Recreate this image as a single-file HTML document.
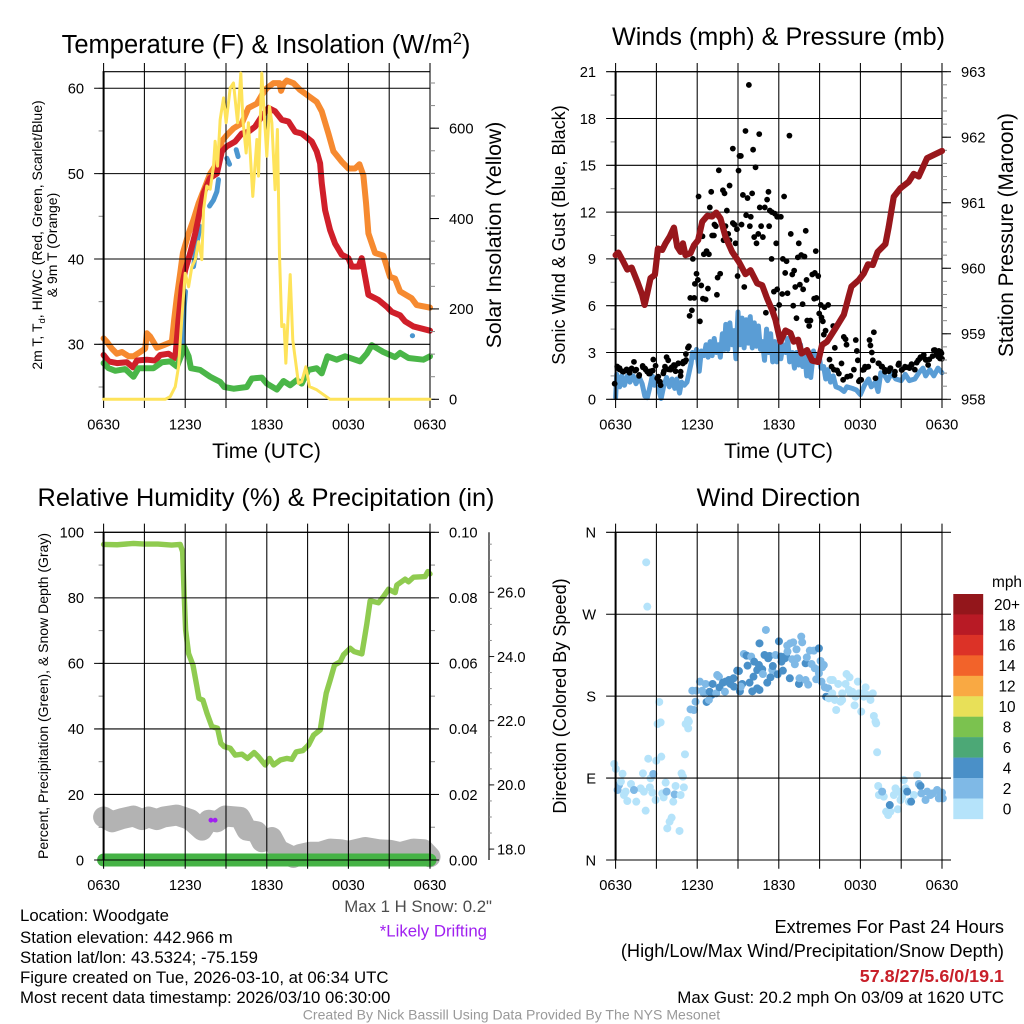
<!DOCTYPE html>
<html lang="en">
<head>
<meta charset="utf-8">
<title>Woodgate Mesonet Meteogram</title>
<style>
html,body{margin:0;padding:0;background:#fff;width:1024px;height:1024px;overflow:hidden}
svg{display:block}
text{font-family:"Liberation Sans",Arial,sans-serif;fill:#000}
</style>
</head>
<body>
<svg id="fig" xmlns="http://www.w3.org/2000/svg" width="1024" height="1024" viewBox="0 0 1024 1024">
<rect x="0" y="0" width="1024" height="1024" fill="#fff"/>
<g id="layer"></g>
<text x="266" y="53" font-size="25.5" text-anchor="middle">Temperature (F) &amp; Insolation (W/m<tspan dy="-9" font-size="16.5">2</tspan><tspan dy="9">)</tspan></text>
<text x="778.5" y="45" font-size="25.2" text-anchor="middle">Winds (mph) &amp; Pressure (mb)</text>
<text x="266" y="506" font-size="25.3" text-anchor="middle">Relative Humidity (%) &amp; Precipitation (in)</text>
<text x="778.5" y="506" font-size="25.2" text-anchor="middle">Wind Direction</text>
<text x="266.5" y="458" font-size="21" text-anchor="middle">Time (UTC)</text>
<text x="778.5" y="458" font-size="21" text-anchor="middle">Time (UTC)</text>
<text transform="translate(42 235) rotate(-90)" font-size="14" text-anchor="middle">2m T, T<tspan dy="3" font-size="9.5">d</tspan><tspan dy="-3">, HI/WC (Red, Green, Scarlet/Blue)</tspan></text>
<text transform="translate(57 245) rotate(-90)" font-size="14" text-anchor="middle">&amp; 9m T (Orange)</text>
<text transform="translate(501 235) rotate(-90)" font-size="21.2" text-anchor="middle">Solar Insolation (Yellow)</text>
<text transform="translate(565 235) rotate(-90)" font-size="18.1" text-anchor="middle">Sonic Wind &amp; Gust (Blue, Black)</text>
<text transform="translate(1013 235) rotate(-90)" font-size="20.8" text-anchor="middle">Station Pressure (Maroon)</text>
<text transform="translate(48 696) rotate(-90)" font-size="14" text-anchor="middle">Percent, Precipitation (Green), &amp; Snow Depth (Gray)</text>
<text transform="translate(566 696) rotate(-90)" font-size="18.1" text-anchor="middle">Direction (Colored By Speed)</text>
<text x="1007" y="587" font-size="15.4" text-anchor="middle">mph</text>
<text x="492" y="912" font-size="16.8" text-anchor="end" style="fill:#4d4d4d">Max 1 H Snow: 0.2"</text>
<text x="487" y="936.5" font-size="16.8" text-anchor="end" style="fill:#a020f0">*Likely Drifting</text>
<text x="20" y="921" font-size="16.8">Location: Woodgate</text>
<text x="20" y="943" font-size="16.8">Station elevation: 442.966 m</text>
<text x="20" y="963" font-size="16.8">Station lat/lon: 43.5324; -75.159</text>
<text x="20" y="983" font-size="16.8">Figure created on Tue, 2026-03-10, at 06:34 UTC</text>
<text x="20" y="1003" font-size="16.8">Most recent data timestamp: 2026/03/10 06:30:00</text>
<text x="1004" y="933" font-size="18.2" text-anchor="end">Extremes For Past 24 Hours</text>
<text x="1004" y="957" font-size="18.2" text-anchor="end">(High/Low/Max Wind/Precipitation/Snow Depth)</text>
<text x="1004" y="982" font-size="17.9" font-weight="bold" text-anchor="end" style="fill:#c8202a">57.8/27/5.6/0/19.1</text>
<text x="1004" y="1003" font-size="16.9" text-anchor="end">Max Gust: 20.2 mph On 03/09 at 1620 UTC</text>
<text x="511.5" y="1019.5" font-size="14.05" text-anchor="middle" style="fill:#999">Created By Nick Bassill Using Data Provided By The NYS Mesonet</text>
</svg>
<script>
// ---------- Temperature panel data ----------
const orangeHours=[0,.24,.61,.98,1.35,1.84,2.2,2.69,3.06,3.18,3.43,3.92,4.41,5.02,5.19,5.39,5.63,5.83,6.25,6.61,6.98,7.47,7.84,8.33,8.69,9.06,9.55,10.16,10.65,11.27,11.63,12,12.49,12.93,13.05,13.22,13.47,13.96,14.45,15.06,15.67,16.04,16.53,16.9,17.51,18,18.49,18.81,19.1,19.3,19.47,19.96,20.57,21.06,21.43,21.8,22.65,23.02,24];
const orangeTemps=[30.7,30.3,29.5,28.9,29.1,28.6,28.6,29.1,29.5,31.3,30.9,29.6,29.9,30.3,32.9,35.6,38.3,40.7,43,44.6,46.5,48.5,50,51.2,53.8,54.5,55.3,55.9,57.7,58.2,59.2,60,60.6,60.6,59.7,60.5,60.9,60.6,59.8,59.1,58.4,57.3,54.7,52.6,51.4,50.6,50.6,51.1,49.8,46.5,43,40.7,40.4,37.9,37.7,36.2,35.4,34.6,34.3];
const redHours=[0,.37,.98,1.71,2.16,2.45,3.18,3.8,4.16,4.78,5.27,5.51,5.76,6,6.37,6.74,6.98,7.35,7.84,8.33,8.69,9.06,9.67,10.16,10.65,11.14,11.63,12.12,12.61,13.1,13.59,14.08,14.57,15.31,15.67,15.92,16.04,16.29,16.65,17.02,17.51,18,18.25,18.74,18.98,19.23,19.47,20.21,20.82,21.19,21.8,22.16,22.78,24];
const redTemps=[28.75,28,27.8,27.9,27.3,28.1,28.2,28.1,28.75,28.9,28.4,32.9,36.8,38.7,40.7,43,44.8,47.7,49.5,50,52.6,53.2,53.75,54.7,54.9,55.5,56.7,57.7,57.3,56.3,56.1,54.9,54.7,53.75,52.6,51.2,48.9,45.7,43.4,41.8,40.5,40.1,39.1,39.1,40.1,37.9,35.8,35.2,34.4,33.8,33.4,32.7,32.1,31.6];
const greenHours=[0,.37,.86,1.59,2.2,2.57,3.67,4.29,4.9,5.39,5.76,5.93,6.25,6.42,7.1,7.84,8.57,8.87,9.55,10.53,10.9,11.63,12,12.74,13.23,13.72,14.2,14.57,15.06,15.67,16.04,16.46,17.14,17.76,18.86,19.35,19.72,20.57,21.43,21.8,22.41,23.51,24];
const greenTemps=[27.8,27.2,26.9,27.1,26.2,27.2,27.2,27.9,28,27.4,28.9,29.7,28.6,27.2,27,26.2,25.6,25,24.8,25,26,26.1,25.4,24.7,25.7,25.2,25.8,25.4,27,27.2,26.6,28.6,28.2,28.6,28,28.9,29.9,29.1,28.5,29,28.4,28.2,28.6];
const windChillHours=[5.76,5.83,5.93,6.02,null,6.61,6.9,7.1,null,7.79,8.08,8.33,8.45,null,9.06,9.26,null,9.75,9.89,null,22.7,22.72];
const windChillTemps=[28.9,30.5,34.4,36.2,null,39.1,42.2,43.8,null,46.2,46.9,47.9,49.3,null,51.8,51.1,null,52.8,52,null,31,31];
const solarHours=[0,4.53,4.9,5.27,5.51,5.76,6,6.25,6.49,6.74,6.98,7.22,7.35,7.59,7.84,8.08,8.2,8.38,8.57,8.82,9.01,9.31,9.55,9.85,10.09,10.24,10.48,10.65,10.97,11.27,11.39,11.63,12,12.2,12.37,12.61,12.78,12.93,13.1,13.27,13.4,13.72,13.91,14.33,14.57,14.87,15.14,15.67,16.65,24];
const solarValues=[0,0,6,28,72,183,279,249,293,309,349,309,420,472,465,516,571,516,619,667,612,689,700,612,722,619,545,612,449,575,494,722,538,648,612,464,597,323,161,165,80,276,131,35,39,72,28,21,0,0];
// ---------- Winds panel data ----------
const windHours=[0,.08,.3,.45,.65,.85,1.05,1.3,1.5,1.75,1.95,2.15,2.33,2.5,2.7,2.85,3,3.2,3.35,3.55,3.75,3.95,4.15,4.35,4.5,4.7,4.85,5.05,5.25,5.4,5.55,5.65,5.8,5.95,6.15,6.3,6.5,6.65,6.8,6.95,7.1,7.25,7.4,7.55,7.7,7.85,8,8.1,8.25,8.4,8.55,8.7,8.85,9,9.15,9.3,9.45,9.6,9.75,9.9,10.05,10.2,10.35,10.5,10.65,10.8,10.95,11.1,11.25,11.4,11.55,11.7,11.85,12,12.15,12.3,12.5,12.65,12.8,13,13.15,13.3,13.45,13.6,13.75,13.9,14.05,14.2,14.35,14.55,14.75,14.95,15.1,15.3,15.45,15.6,15.8,16,16.2,16.5,16.8,17,17.4,17.7,18,18.3,18.6,18.8,19.1,19.3,19.5,19.8,20,20.3,20.6,21,21.3,21.6,22,22.3,22.6,22.8,23.1,23.4,23.7,24];
const windSpeeds=[.1,1.6,.8,1.5,.9,1.5,1.1,1.5,1,1.4,1,.2,.1,.7,1.5,.9,1.4,.5,.05,.9,1.4,.8,1.3,.7,1.3,.4,1.1,.9,1.1,1.7,2.3,3,2.7,3.2,1.8,3.1,2.8,3.5,2.7,3.7,2.8,3.9,3,3.5,2.7,4.2,3.2,4.8,3.2,4.9,3.5,4.4,2.6,5.6,3.5,5.2,3.3,5.1,3.6,5.3,3.3,4.9,3.4,4.7,3.2,3.7,2.5,4.5,3,4.2,2.4,3.7,2.4,3.5,2.6,3.5,3,3.9,2.4,3,2,3,2.2,3.5,2.1,3,1.5,2.8,1.4,3.1,2.4,2.9,2,2.1,1.3,1.9,1.1,1.5,.8,.7,.5,.8,.7,.6,.3,.9,1.3,.8,1.1,.5,1.7,1.5,1.2,1.7,1.3,1.2,1.6,1.2,1.3,1.7,2,1.5,1.9,1.5,2,1.7];
const gustHours=[9.8,9.55,10.56,12.78,8.62,10.11,9.11,9.21,10.29,7.59,9.04,8.38,7.89,8.01,7.03,11.24,9.36,10.04,9.7,11.14,12.39,6.1,6.93,8.18,10.6,10.97,11.34,11.49,11.71,11.88,12.15,9.6,9.94,8.62,8.74,9.26,7.27,7.37,8.08,10.7,11.29,9.87,8.92,13.98,12.88,6.39,7.1,7.23,8.28,10.49,7.94,8.38,10.19,10.83,8.82,10.36,11.81,13.47,14.72,6.49,6.69,6.86,13.65,13.4,13.89,5.68,11.47,12.3,12.57,5.95,7.69,13.13,12.99,12.47,14.46,14.65,14.9,14.04,8.97,7.5,6.05,5.83,6.3,6.79,9.46,13.55,13.21,13.79,11.64,11.88,12.64,12.25,7.45,5.49,5.78,6.42,6.62,14.6,14.77,12.03,13.06,13.75,15.09,15.63,15.36,5.61,11.64,11.05,5.44,14.97,15.14,13.3,14.09,14.33,15.24,6.2,14.23,16,15.44,15.31,18.99,16.78,16.91,17.66,18.67,18.74,16.98,16.12,17.74,18.84,15.73,5.39,5.32,5.17,17.81,18.91,-.07,.12,.29,.49,.86,1.03,1.35,1.52,1.72,2.01,2.21,2.45,2.57,2.77,2.94,3.19,3.31,3.06,3.55,3.75,3.87,4.04,4.29,4.41,4.61,4.78,4.95,5.1,15.88,16.05,16.29,16.42,16.61,16.73,17.03,17.27,17.52,17.89,18.06,18.25,18.42,19.11,19.36,19.6,19.8,20.09,20.21,20.51,20.83,21.07,21.32,21.61,21.76,22,22.25,22.42,22.66,22.79,22.98,23.4,23.57,23.77,23.96,24,.13,.27,.57,.81,1.01,1.18,1.43,1.74,1.99,2.16,2.33,2.53,2.73,3.14,3.26,3.51,3.63,3.88,4.12,4.37,4.61,4.78,4.98,5.18,17.97,18.17,18.34,18.58,19.32,19.56,19.81,20.18,20.54,20.79,21.03,21.28,21.53,21.77,22.14,22.38,22.63,22.82,23.07,23.31,23.48,23.73,23.9,23.85];
const gustSpeeds=[20.15,17.2,17,16.9,16.07,16,15.6,15.6,14.87,14.68,14.66,13.7,13.4,13.2,13.3,13.3,13.1,13.2,12.9,12.8,13,13,12.3,12.1,12.3,12.3,12.1,12,11.9,11.7,11.7,11.8,11.7,11.3,11.2,11.2,11.2,11.1,11.1,11.1,11.1,11.1,10.9,10.8,10.6,10.45,10.5,10.5,10.6,10.6,10.2,10.2,10.4,10.4,10,10,10,10,9.5,9.3,9.5,9.3,9.25,9.1,9.15,9,9,9,8.85,8.05,8.05,8.25,8,8.1,8,8.1,7.9,7.65,7.9,7.8,7.65,7.4,7.3,7.1,7.2,7.35,7.2,7.05,6.9,7.05,6.8,6.75,6.7,6.5,6.5,6.45,6.4,6.45,6.5,6.05,6,6.1,6.05,6.05,5.9,5.7,5.75,5.55,5.35,5.5,5.25,5.2,5.05,5.05,5,5,4.7,4.7,4.4,4.15,4.3,4,3.85,3.8,3.8,3.45,3.5,3.3,3.1,3,2.55,3.4,3.3,2.9,2.5,2.5,1,2.1,2,1.8,1.85,1.7,2.4,1.9,1.5,2.05,1.9,1.65,1.8,2.55,2.15,1.15,.9,1.35,1.8,2.7,2.5,1.9,2.2,1.8,2.3,1.5,2.3,2.4,2.1,1.9,1.85,1.65,2.3,1.25,1.45,1.5,1.9,1.15,1.25,1.9,2.05,1.35,2.3,2.1,1.9,1.8,2,1.55,2.3,1.9,2.05,2,2.25,1.9,2.5,2.7,2.85,2.55,2.2,3.15,2.85,3.1,2.95,2.6,2.05,1.92,1.77,1.92,1.84,1.98,1.84,1.56,2.14,1.98,1.77,1.66,1.84,1.45,1.13,1.66,2.09,1.92,2.05,2.14,2.31,1.77,2.41,2.52,1.24,1.88,2.09,2.09,2.31,2.09,1.77,1.98,1.77,2.2,1.88,2.09,2.05,2.2,2.35,2.62,2.73,2.52,2.56,2.77,3.16,2.73,3.05,2.62];
const pressureHours=[0,.2,.49,.86,1.18,1.59,1.96,2.13,2.33,2.57,2.89,3.11,3.43,3.67,3.97,4.29,4.53,4.78,4.95,5.14,5.51,5.76,6.07,6.37,6.74,7.1,7.4,7.71,8.08,8.57,9.06,9.55,9.92,10.41,10.78,11.14,11.51,11.76,12.12,12.49,12.86,13.1,13.42,13.67,14.08,14.45,14.89,15.18,15.55,16.16,16.78,17.14,17.34,17.88,18.25,18.56,18.91,19.27,19.84,20.08,20.45,20.94,21.55,21.92,22.29,22.9,23.39,24];
const pressureValues=[960.2,960.24,960.13,959.98,960.01,959.8,959.59,959.44,959.62,959.85,959.9,960.3,960.28,960.38,960.48,960.62,960.33,960.25,960.38,960.2,960.23,960.35,960.43,960.71,960.8,960.79,960.85,960.76,960.48,960.25,960.1,959.91,959.97,959.77,959.74,959.54,959.36,959.21,958.88,959.05,959.01,958.88,958.91,958.7,958.75,958.59,958.57,958.83,958.88,959.08,959.29,959.57,959.72,959.82,959.92,960.06,960.05,960.25,960.37,960.63,961.09,961.22,961.32,961.44,961.4,961.68,961.73,961.79];
// ---------- Humidity panel data ----------
const humidityHours=[0,1,2.2,3,4,5,5.63,5.81,5.93,6.03,6.25,6.57,6.86,7.01,7.3,7.6,7.96,8.38,8.62,8.87,9.31,9.68,10.17,10.58,11.07,11.39,11.88,12.2,12.5,12.99,13.48,13.84,14.16,14.65,15.07,15.44,15.93,16.12,16.37,16.66,16.98,17.4,17.64,18.13,18.42,18.99,19.16,19.36,19.6,20.21,20.58,20.95,21.44,21.56,22.17,22.42,22.79,23.64,23.84,24];
const humidityValues=[96.3,96.2,96.6,96.4,96.4,96.1,96.3,94.1,80.4,70.2,63,59.5,52.9,49.3,48.8,44.8,40.7,40.2,35.6,34.6,34.1,32,32.3,31,32.8,31.5,29,31,29,30.5,31,30.7,33,33.4,35.1,38.1,39.7,44.8,50.9,54.9,59.5,60.5,62.6,64.6,63.6,62.9,67.1,72.2,79.1,78.5,80.4,82.6,81.6,83.9,85.7,84.9,86.3,86.5,88,87.3];
const snowHours=[0,.61,1.35,2.2,2.82,3.31,3.92,4.41,5.39,6.37,7.23,7.72,8.33,8.94,10.04,10.53,11.27,11.64,12.37,12.86,13.96,14.45,15.19,15.92,16.66,17.4,18.01,19.23,20.21,21.07,21.8,22.79,23.52,24];
const snowDepths=[19,18.85,18.95,19.03,18.92,19,18.92,19,19.06,18.92,18.59,18.9,18.85,19.03,18.99,18.59,18.54,18.23,18.36,17.97,17.74,17.83,17.9,17.9,18,17.98,17.93,18.05,17.98,17.96,17.89,18,17.98,17.76];
const precipHours=[0,6,12,18,24];
const precipValues=[0,0,0,0,0];
const driftHours=[7.89,8.2];
const driftDepths=[18.9,18.9];
// ---------- Wind direction panel data ----------
const dirHours=[-.1,.02,.51,.25,.15,.39,.74,.61,.86,1.13,1.52,1.84,2.01,2.52,2.08,2.21,2.25,2.33,2.4,2.99,3.36,3.21,3.09,3.31,2.94,2.7,2.57,2.77,3.43,3.68,3.53,3.75,3.8,3.97,4.12,4.7,4.24,4.41,4.34,4.78,5.02,5.1,4.85,4.95,5.32,5.15,5.39,5.34,1.35,5.51,5.76,5.88,5.64,5.93,6.2,6.49,6.37,6.62,6.69,6.91,7.06,6.86,7.13,7.4,7.47,7.6,7.64,7.89,8.08,8.04,8.33,8.45,8.67,8.7,8.94,9.07,9.14,9.31,9.85,9.43,9.63,9.7,9.97,10.05,10.14,10.19,10.41,10.58,10.41,10.54,10.78,10.83,10.58,11.05,10.95,11.22,11.32,11.15,11.39,11.52,11.56,11.76,11.91,12.01,12.15,12.2,12.3,12.45,12.54,12.62,12.84,13.06,12.64,12.99,13.18,13.35,13.3,13.65,13.72,12.81,13.48,13.52,13.97,14.16,13.97,14.06,14.28,14.58,14.95,14.41,14.65,14.75,14.95,15.07,15.31,15.19,15.14,15.39,15.63,15.48,15.8,15.97,16.22,15.93,16.12,16.54,16.37,16.66,16.91,16.98,17.2,17.15,17.4,17.64,17.81,17.89,18.06,17.57,18.25,18.38,18.5,18.74,18.91,18.99,19.11,19.23,19.16,15.68,16.66,17.27,18.13,19.31,19.72,19.89,20.04,20.21,20.58,20.75,20.95,21.19,21.32,21.56,22.17,21.93,20.46,20.83,21.07,19.36,19.6,20.16,21.44,21.73,22.3,22.42,22.49,22.79,22.91,23.15,23.32,23.64,23.77,23.89,24,24.06,9.21];
const dirDegrees=[105.5,100,94.8,82.4,76.9,86.1,75.1,71.4,64.8,83.5,64.1,78.7,95.2,79.8,75.1,54.2,327,278.3,111.3,109.1,113.5,173.6,149.4,151.2,65.9,74,89.7,94.5,73.2,85,68.8,75.1,34.8,42.1,46.5,31.9,64.1,81.3,72.1,71.4,79.8,116.1,95.2,91.6,153.8,149.4,152,144.6,76.9,165.5,164.8,173.9,186,186,195.9,183.1,186,193.4,173.6,184.9,181.3,175.8,193.4,183.1,203.2,201.4,189.7,194.8,195.9,184.9,197.7,193.4,199.6,190.4,208,207.6,185.3,193.4,194.8,226.3,224.5,213.5,223.4,185.3,201.4,217.9,188.6,186.8,208.7,214.2,209.5,204.3,238,252.7,225.2,221.6,224.1,194.8,200.7,208.7,213.1,225.2,204,240.2,223.4,217.9,208,221.6,224.1,235.5,238,239.1,228.9,220.5,215,221.6,231.4,245.4,239.1,199.6,193.4,199.6,197.7,192.6,216.1,222.6,230,230,232.5,215.3,210.6,198.5,205.1,218.6,214.2,211.7,195.9,189.7,188.6,179.4,197.7,197.7,164.8,183.1,175.8,173.9,193.4,183.1,193.4,204.3,200.7,186.8,184.9,179.4,195.9,183.1,163,169.9,179.4,189.7,181.3,175.8,183.1,158.2,152,118.3,150.1,177.6,175.8,183.1,183.1,81.3,69.6,53.1,49.4,53.1,78.7,55.7,65.9,87.9,78.7,64.1,93.4,71.4,71.4,75,69.6,71.4,75.1,60.4,75.1,64.1,83.5,81.3,73.2,65.9,75.1,71.4,73.2,76.9,67.7,71.4,74,67.7,190.4];
const dirSpeeds=[.5,.5,.5,2,2,.5,.5,.5,.5,.5,.5,.5,.5,.5,.5,.5,.5,.5,.5,.5,.5,.5,.5,.5,.5,.5,.5,2,.5,.5,.5,2,.5,.5,.5,.5,.5,.5,2,.5,.5,.5,.5,.5,.5,.5,.5,.5,2,2,2,2,2,2,2,2,2,2,4,4,4,2,4,2,2,2,4,4,4,2,4,4,4,4,4,4,4,4,4,2,4,4,2,4,4,4,4,4,4,4,4,2,4,2,4,4,4,4,4,2,4,2,4,4,4,4,4,4,4,2,2,2,2,2,2,2,2,2,2,4,4,2,2,2,4,2,2,2,4,2,2,2,2,2,2,2,2,2,2,4,.5,.5,.5,.5,.5,.5,.5,.5,.5,.5,.5,.5,.5,.5,.5,.5,.5,.5,.5,.5,.5,.5,.5,.5,.5,.5,.5,.5,.5,.5,.5,.5,.5,.5,.5,.5,.5,.5,.5,.5,.5,.5,.5,.5,.5,.5,.5,.5,2,4,4,4,2,4,2,2,2,2,2,2,2,2,2,2,2,5.6];
const legendLabels=['20+','18','16','14','12','10','8','6','4','2','0'];
const legendColors=['#93161b','#b81a25','#dc3227','#f2632a','#f9a943','#e8e058','#7bc24f','#4ca876','#4a90c8','#7fb9e6','#b5e3fa'];
const timeLabels=['0630','1230','1830','0030','0630'];
const tempTicks=[30,40,50,60];
const solarTicks=[0,200,400,600];
const windTicks=[0,3,6,9,12,15,18,21];
const pressureTicks=[958,959,960,961,962,963];
const percentTicks=[0,20,40,60,80,100];
const precipTicks=['0.00','0.02','0.04','0.06','0.08','0.10'];
const snowTicks=['18.0','20.0','22.0','24.0','26.0'];
const compassLabels=['N','E','S','W','N'];
const compassDegrees=[0,90,180,270,360];

const NS='http://www.w3.org/2000/svg';
const layer=document.getElementById('layer');
function make(tag,attrs){
  const el=document.createElementNS(NS,tag);
  for(const k in attrs){el.setAttribute(k,attrs[k]);}
  layer.appendChild(el);
  return el;
}
function xScale(p,h){return p.l+h*(p.r-p.l)/24;}
function yScale(p,v,lo,hi){return p.b-(v-lo)*(p.b-p.t)/(hi-lo);}
function drawLine(p,hours,values,lo,hi,color,width,name){
  let d='';let pen=false;
  for(let i=0;i<hours.length;i++){
    if(hours[i]===null||values[i]===null){pen=false;continue;}
    d+=(pen?'L':'M')+xScale(p,hours[i]).toFixed(2)+' '+yScale(p,values[i],lo,hi).toFixed(2);
    pen=true;
  }
  const el=make('path',{d:d,fill:'none',stroke:color,'stroke-width':width,'stroke-linejoin':'round','stroke-linecap':'round'});
  
  
  return el;
}
function rule(x1,y1,x2,y2,color,width,name){
  const el=make('line',{x1:x1,y1:y1,x2:x2,y2:y2,stroke:color,'stroke-width':width});
  
  
  return el;
}
function label(x,y,str,anchor,size,name){
  const el=make('text',{x:x,y:y,'text-anchor':anchor,'font-size':size});
  el.textContent=str;
  
  
  return el;
}
function drawFrame(p,prefix,leftLo,leftHi,leftTicks,leftLabels,leftMinorStep){
  // minor ticks on the left
  for(let v=Math.ceil(leftLo/leftMinorStep)*leftMinorStep;v<=leftHi+1e-6;v+=leftMinorStep){
    rule(p.l-5,yScale(p,v,leftLo,leftHi),p.l,yScale(p,v,leftLo,leftHi),'#888',1,prefix+'-left-minor-tick');
  }
  // horizontal grid
  leftTicks.forEach(function(v,i){
    const y=yScale(p,v,leftLo,leftHi);
    rule(p.l-9.5,y,p.r,y,'#000',1.05,prefix+'-horizontal-gridline');
    label(p.l-19.5,y+5.3,leftLabels[i],'end',14.7,prefix+'-left-tick-label');
  });
  rule(p.l-1,p.t,p.r,p.t,'#000',1.05,prefix+'-top-border');
  rule(p.l-1,p.b,p.r,p.b,'#000',1.05,prefix+'-bottom-border');
  // vertical grid every 3 hours
  for(let k=0;k<=8;k++){
    const x=xScale(p,k*3);
    rule(x,p.t-8.7,x,p.b+8.7,'#000',1.05,prefix+'-vertical-gridline');
    if(k%2===0){label(x,p.b+30.2,timeLabels[k/2],'middle',14.7,prefix+'-time-tick-label');}
  }
  rule(p.l,p.t,p.l,p.b,'#000',2,prefix+'-left-axis');
}
function drawRightAxis(p,prefix,lo,hi,ticks,labels,minorStep){
  for(let v=lo;v<=hi+1e-6;v+=minorStep){
    rule(p.r,yScale(p,v,lo,hi),p.r+5,yScale(p,v,lo,hi),'#888',1,prefix+'-right-minor-tick');
  }
  ticks.forEach(function(v,i){
    const y=yScale(p,v,lo,hi);
    rule(p.r,y,p.r+9,y,'#000',1.05,prefix+'-right-major-tick');
    if(labels){label(p.r+19,y+5.3,labels[i],'start',14.7,prefix+'-right-tick-label');}
  });
}

// ---------- Temperature panel ----------
const P1={l:103.6,r:430,t:71.7,b:399.3};
const tLo=23.56,tHi=61.94;
drawLine(P1,orangeHours,orangeTemps,tLo,tHi,'#f68a30',6,'nine-meter-temperature-line');
drawLine(P1,windChillHours,windChillTemps,tLo,tHi,'#4b96cf',5,'wind-chill-line');
drawLine(P1,redHours,redTemps,tLo,tHi,'#d01f2a',6,'two-meter-temperature-line');
drawLine(P1,greenHours,greenTemps,tLo,tHi,'#4ab648',6,'dew-point-line');
drawFrame(P1,'temperature',tLo,tHi,tempTicks,tempTicks.map(String),5);
drawRightAxis(P1,'insolation',0,725,solarTicks,solarTicks.map(String),50);
drawLine(P1,solarHours,solarValues,0,725,'#fee35a',3,'solar-insolation-line');

// ---------- Winds panel ----------
const P2={l:615.6,r:942,t:71.7,b:399.3};
drawLine(P2,windHours,windSpeeds,0,21,'#5a9dd5',5,'sonic-wind-line');
gustHours.forEach(function(h,i){
  const el=make('circle',{cx:xScale(P2,h).toFixed(2),cy:yScale(P2,gustSpeeds[i],0,21).toFixed(2),r:2.9,fill:'#000'});
  
  
});
drawFrame(P2,'winds',0,21,windTicks,windTicks.map(String),1.5);
drawRightAxis(P2,'pressure',958,963,pressureTicks,pressureTicks.map(String),.2);
drawLine(P2,pressureHours,pressureValues,958,963,'#98171c',6.2,'station-pressure-line');

// ---------- Humidity panel ----------
const P3={l:103.6,r:430,t:532.3,b:860};
const sLo=17.66,sHi=27.87;
drawLine(P3,snowHours,snowDepths,sLo,sHi,'#b3b3b3',21,'snow-depth-line');
drawLine(P3,humidityHours,humidityValues,0,100,'#8fcb50',5.4,'relative-humidity-line');
drawLine(P3,precipHours,precipValues,0,.1,'#46b346',13,'precipitation-line');
driftHours.forEach(function(h,i){
  const el=make('circle',{cx:xScale(P3,h).toFixed(2),cy:yScale(P3,driftDepths[i],sLo,sHi).toFixed(2),r:2.4,fill:'#a020f0'});
  
  
});
drawFrame(P3,'humidity',0,100,percentTicks,percentTicks.map(String),10);
drawRightAxis(P3,'precipitation',0,.1,[0,.02,.04,.06,.08,.1],precipTicks,.01);
rule(P3.r,P3.t,P3.r,P3.b,'#000',1.8,'humidity-right-border');
rule(489,P3.t,489,P3.b,'#333',1.4,'snow-depth-axis');
for(let v=18;v<=27.6;v+=.5){
  rule(489,yScale(P3,v,sLo,sHi),491.8,yScale(P3,v,sLo,sHi),'#888',1,'snow-depth-minor-tick');
}
snowTicks.forEach(function(s){
  const y=yScale(P3,parseFloat(s),sLo,sHi);
  rule(489,y,494.2,y,'#222',1.05,'snow-depth-major-tick');
  label(497,y+5.3,s,'start',14.7,'snow-depth-tick-label');
});

// ---------- Wind direction panel ----------
const P4={l:615.6,r:942,t:532.3,b:860};
function speedColor(v){
  const idx=Math.min(10,Math.round(v/2));
  return legendColors[10-idx];
}
dirHours.forEach(function(h,i){
  const el=make('circle',{cx:xScale(P4,h).toFixed(2),cy:yScale(P4,dirDegrees[i],0,360).toFixed(2),r:4,fill:speedColor(dirSpeeds[i])});
  
  
});
drawFrame(P4,'direction',0,360,compassDegrees,compassLabels,1000);
compassDegrees.forEach(function(v){
  const y=yScale(P4,v,0,360);
  rule(P4.r,y,P4.r+9,y,'#000',1.05,'direction-right-tick');
});
const legendTop=594,legendStep=20.45;
legendLabels.forEach(function(s,i){
  const box=make('rect',{x:953.3,y:legendTop+i*legendStep,width:29.9,height:legendStep+.2,fill:legendColors[i]});
  
  
  label(1007,legendTop+i*legendStep+15.8,s,'middle',15.4,'legend-label');
});
</script>
</body>
</html>
